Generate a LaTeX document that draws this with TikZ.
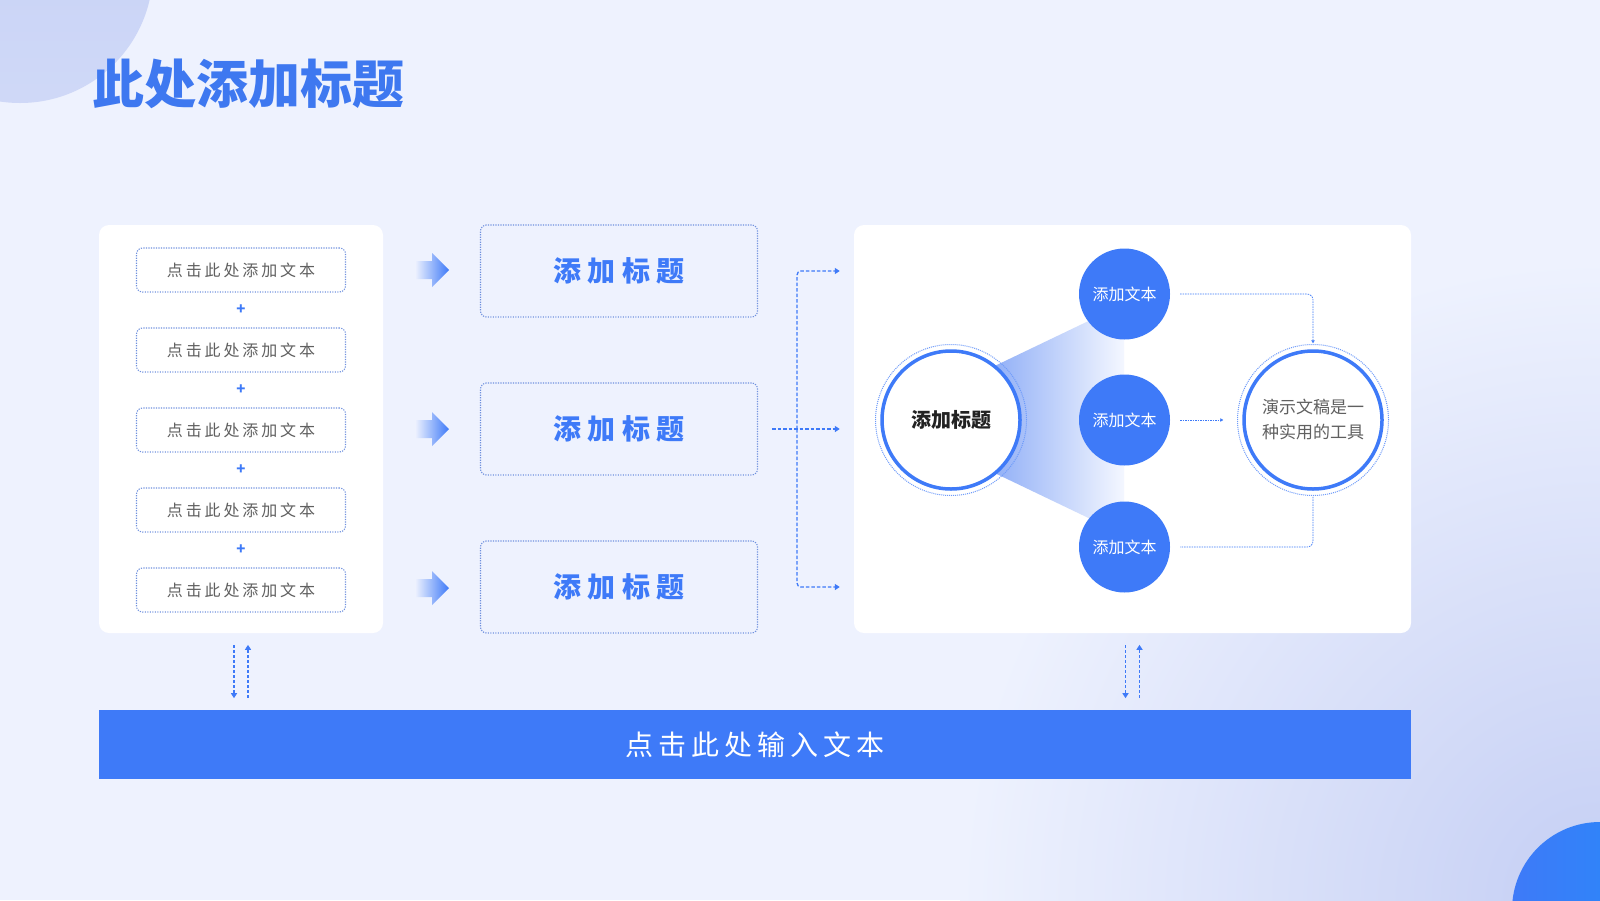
\documentclass[tikz,border=0pt]{standalone}
\usepackage{fontspec}
\setmainfont{Noto Sans CJK SC}
\newfontfamily\boxfont[LetterSpace=18]{Noto Sans CJK SC}
\newfontfamily\headfont[LetterSpace=22]{Noto Sans CJK SC}
\usepackage{tikz}
\usetikzlibrary{arrows.meta, positioning, calc, shadings}
\definecolor{bg}{RGB}{238,242,254}
\definecolor{bgdark}{RGB}{196,206,244}
\definecolor{deco}{RGB}{197,208,245}
\definecolor{mainblue}{RGB}{62,122,248}
\definecolor{skyblue}{RGB}{36,140,250}
\definecolor{titleblue}{RGB}{62,120,240}
\definecolor{dotblue}{RGB}{112,145,222}
\definecolor{fanblue}{RGB}{135,168,246}
\definecolor{fanwhite}{RGB}{244,247,255}
\definecolor{greytext}{RGB}{96,96,96}
\definecolor{darktext}{RGB}{34,34,34}

\begin{document}
\begin{tikzpicture}[x=1pt, y=-1pt,
  panel/.style = {fill=white, rounded corners=10pt, inner sep=0pt},
  txt/.style = {draw=dotblue, dash pattern=on 1.2pt off 1.3pt, line width=1.1pt, rounded corners=6pt, minimum width=209pt, minimum height=44pt, inner sep=0pt, text=greytext, font=\boxfont\fontsize{16}{19}\selectfont},
  plus/.style = {text=mainblue, font=\bfseries\fontsize{15}{15}\selectfont, inner sep=0pt},
  head/.style = {draw=dotblue, dash pattern=on 1.2pt off 1.3pt, line width=1.1pt, rounded corners=6pt, minimum width=277pt, minimum height=92pt, inner sep=0pt, text=mainblue, font=\headfont\bfseries\fontsize{28}{32}\selectfont},
  dlink/.style = {mainblue, line width=1.3pt, dash pattern=on 3.5pt off 2pt, -{Triangle[length=5pt,width=6pt]}},
  vlink/.style = {mainblue, line width=1.3pt, dash pattern=on 3pt off 2pt, -{Triangle[length=5pt,width=6pt]}, shorten <=12pt, shorten >=12pt},
  tlink/.style = {mainblue, line width=0.7pt, dash pattern=on 1.5pt off 1pt},
  small/.style = {circle, fill=mainblue, minimum size=91pt, inner sep=0pt, text=white, font=\fontsize{16}{19}\selectfont},
  big/.style = {circle, draw=mainblue, line width=3.5pt, fill=white, minimum size=138pt, inner sep=0pt},
  ring/.style = {mainblue!75, line width=1pt, dash pattern=on 1pt off 1pt}
]
\useasboundingbox (0,0) rectangle (1600,900);
\clip (0,0) rectangle (1600,900);
% background
\fill[bg] (0,0) rectangle (1600,900);
\shade[inner color=bgdark, outer color=bg] (1600,900) circle (640pt);
\shade[top color=deco, bottom color=deco!75!bg] (20,-30) circle (133pt);
\shade[left color=mainblue, right color=skyblue] (1600,910) circle (88pt);

% title
\node[anchor=west, inner sep=0pt, text=titleblue, font=\bfseries\fontsize{52}{60}\selectfont] (title) at (92,84) {此处添加标题};

% left panel
\node[panel, minimum width=284pt, minimum height=408pt] (lp) at (241,429) {};
\node[txt] (t1) at (241,270) {点击此处添加文本};
\node[txt] (t2) at (241,350) {点击此处添加文本};
\node[txt] (t3) at (241,430) {点击此处添加文本};
\node[txt] (t4) at (241,510) {点击此处添加文本};
\node[txt] (t5) at (241,590) {点击此处添加文本};
\node[plus] (p1) at (241,310) {+};
\node[plus] (p2) at (241,390) {+};
\node[plus] (p3) at (241,470) {+};
\node[plus] (p4) at (241,550) {+};

% gradient arrows
\shade[left color=bg, right color=mainblue] (415,261) -- (432,261) -- (432,253) -- (449,270) -- (432,287) -- (432,279) -- (415,279) -- cycle;
\shade[left color=bg, right color=mainblue] (415,420) -- (432,420) -- (432,412) -- (449,429) -- (432,446) -- (432,438) -- (415,438) -- cycle;
\shade[left color=bg, right color=mainblue] (415,579) -- (432,579) -- (432,571) -- (449,588) -- (432,605) -- (432,597) -- (415,597) -- cycle;

% title boxes
\node[head] (h1) at (619,271) {添加标题};
\node[head] (h2) at (619,429) {添加标题};
\node[head] (h3) at (619,587) {添加标题};

% right panel
\node[panel, minimum width=557pt, minimum height=408pt] (rp) at (1132.5,429) {};
\coordinate (j) at (797,429);
\draw[dlink] ([xshift=14pt]h2.east) -- ([xshift=-14pt]rp.west);
\draw[dlink, rounded corners=4pt] (j) |- ([xshift=-14pt]rp.west |- h1);
\draw[dlink, rounded corners=4pt] (j) |- ([xshift=-14pt]rp.west |- h3);

\shade[left color=fanblue, right color=fanwhite] (980,373) -- (1124,304) -- (1124,535) -- (980,466) -- cycle;
\node[big] (c) at (951,420) {};
\draw[ring] (c) circle (75.5pt);
\node[text=darktext, font=\bfseries\fontsize{20}{24}\selectfont] at (c) {添加标题};
\node[small] (n1) at (1124.5,294) {添加文本};
\node[small] (n2) at (1124.5,420) {添加文本};
\node[small] (n3) at (1124.5,547) {添加文本};
\node[big] (r) at (1313,420) {};
\draw[ring] (r) circle (75.5pt);
\node[text=greytext, align=center, font=\fontsize{17}{25}\selectfont] at (r) {演示文稿是一\\种实用的工具};
\draw[tlink, rounded corners=6pt, -{Triangle[length=3pt,width=3.5pt]}] ([xshift=10pt]n1.east) -| ([yshift=6pt]r.north);
\draw[tlink, -{Triangle[length=3pt,width=3.5pt]}] ([xshift=10pt]n2.east) -- ([xshift=-19pt]r.west);
\draw[tlink, rounded corners=6pt] ([yshift=-6pt]r.south) |- ([xshift=10pt]n3.east);

% bottom bar
\node[fill=mainblue, minimum width=1312pt, minimum height=69pt, inner sep=0pt, text=white, font=\boxfont\fontsize{28}{32}\selectfont] (bar) at (755,744.5) {点击此处输入文本};
\draw[vlink] ([xshift=-7pt]lp.south) -- ++(0,77);
\draw[vlink] ([xshift=7pt]bar.north -| lp.south) -- ++(0,-77);
\draw[vlink] ([xshift=-7pt]rp.south) -- ++(0,77);
\draw[vlink] ([xshift=7pt]bar.north -| rp.south) -- ++(0,-77);
\end{tikzpicture}
\end{document}
